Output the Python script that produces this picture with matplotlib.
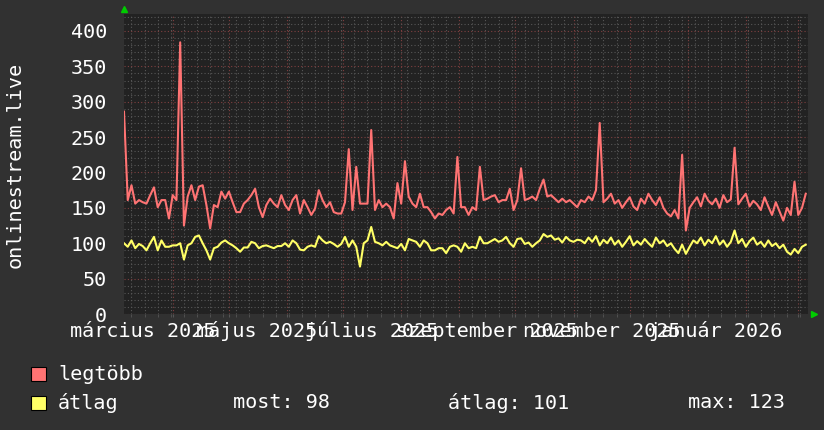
import pandas as pd
import matplotlib.pyplot as plt
import matplotlib.dates as mdates
import matplotlib.transforms as mtransforms
from matplotlib.patches import Rectangle

# values, one every second day from 2025-03-06
legtobb = [286, 161, 182, 156, 161, 158, 156, 168, 179, 151,
           161, 161, 135, 168, 161, 384, 125, 166, 182, 161,
           180, 182, 154, 121, 154, 151, 173, 163, 173, 158,
           144, 144, 156, 161, 168, 177, 151, 137, 154, 163,
           156, 151, 168, 154, 147, 161, 168, 142, 161, 151,
           140, 149, 175, 161, 151, 158, 144, 142, 142, 158,
           233, 147, 208, 156, 156, 156, 260, 147, 161, 151,
           156, 151, 135, 185, 156, 216, 166, 156, 151, 170,
           151, 151, 144, 135, 142, 140, 147, 151, 142, 222,
           151, 151, 140, 151, 147, 208, 161, 163, 166, 168,
           158, 161, 161, 177, 147, 161, 206, 161, 163, 166,
           161, 177, 190, 166, 168, 163, 158, 163, 158, 161,
           156, 151, 161, 158, 166, 161, 175, 270, 158, 163,
           170, 156, 161, 150, 158, 165, 152, 147, 163, 156,
           170, 161, 154, 165, 150, 142, 138, 147, 135, 225,
           118, 150, 158, 165, 152, 170, 160, 155, 163, 150,
           168, 158, 162, 235, 155, 163, 170, 152, 160, 155,
           147, 165, 152, 140, 158, 145, 132, 150, 140, 187,
           140, 150, 170]
atlag = [100, 95, 104, 93, 99, 96, 90, 100, 109, 90,
         104, 95, 95, 97, 97, 100, 77, 97, 100, 109,
         111, 100, 90, 77, 93, 95, 101, 104, 100, 97,
         93, 88, 94, 94, 102, 100, 93, 96, 97, 95,
         93, 96, 96, 100, 95, 104, 100, 91, 90, 95,
         97, 95, 110, 104, 100, 102, 99, 95, 99, 109,
         95, 104, 95, 67, 100, 104, 123, 102, 100, 97,
         102, 97, 95, 93, 99, 90, 106, 104, 102, 95,
         104, 100, 90, 90, 93, 93, 86, 95, 97, 95,
         88, 100, 93, 95, 93, 109, 100, 100, 103, 106,
         102, 104, 109, 100, 95, 106, 107, 99, 101, 95,
         100, 104, 113, 109, 111, 105, 107, 101, 109, 104,
         102, 105, 104, 100, 108, 102, 110, 97, 105, 100,
         108, 98, 104, 95, 102, 110, 97, 103, 98, 106,
         100, 95, 108, 100, 104, 96, 100, 92, 86, 98,
         85, 95, 104, 100, 108, 97, 105, 100, 110, 98,
         104, 95, 102, 118, 100, 106, 95, 103, 108, 98,
         102, 95, 104, 96, 100, 93, 98, 88, 84, 92,
         86, 95, 98]
days = pd.date_range('2025-03-06', periods=len(legtobb), freq='2D')

month_labels = ['március 2025', 'május 2025', 'július 2025',
                'szeptember 2025', 'november 2025', 'január 2026']
label_dates = pd.to_datetime(['2025-03-16', '2025-05-16', '2025-07-16',
                              '2025-09-16', '2025-11-16', '2026-01-16'])
series_names = ['legtöbb', 'átlag']
stats = ['most: 98', 'átlag: 101', 'max: 123']

BG = '#313131'
CANVAS = '#222222'
RED = '#ff7373'
YELLOW = '#ffff66'
FONT = 'DejaVu Sans Mono'
W, H = 824, 430

plt.rcParams['font.family'] = FONT
fig = plt.figure(figsize=(W / 100, H / 100), dpi=100, facecolor=BG)
ax = fig.add_axes([124 / W, 1 - 314 / H, 684 / W, 300 / H], facecolor=CANVAS)

ax.plot(days, legtobb, color=RED, lw=1.5, zorder=3)
ax.plot(days, atlag, color=YELLOW, lw=1.5, zorder=3)

x0 = pd.Timestamp('2025-03-06')
ax.set_xlim(x0, x0 + pd.Timedelta(days=365.2))
ax.set_ylim(0, 424)

ax.xaxis.set_major_locator(mdates.MonthLocator())
ax.xaxis.set_minor_locator(mdates.WeekdayLocator(byweekday=mdates.MO))
ax.set_yticks(range(0, 401, 50))
ax.set_yticks(range(0, 421, 10), minor=True)
ax.set_axisbelow(True)
ax.grid(which='minor', color='#575757', linestyle=(0, (1, 2)), lw=0.8)
ax.grid(which='major', color='#804040', linestyle=(0, (1, 2)), lw=0.8)

ax.tick_params(axis='x', which='both', labelbottom=False, length=2, color='#555555')
ax.tick_params(axis='y', which='both', length=0, colors='white', labelsize=14.5, pad=12)
for s in ax.spines.values():
    s.set_visible(False)

# month labels sit in the middle of each month
trans = mtransforms.blended_transform_factory(ax.transData, ax.transAxes)
for d, lab in zip(label_dates, month_labels):
    ax.text(d, -0.057, lab, transform=trans, ha='center', va='center',
            color='white', fontsize=14.5)

fig.text(15 / W, 1 - 165 / H, 'onlinestream.live', rotation=90, ha='center',
         va='center', color='white', fontsize=14.5)

# green arrows at the axis ends
ax.plot([0], [1.018], marker='^', color='#00cc00', ms=5, transform=ax.transAxes, clip_on=False)
ax.plot([1.009], [0], marker='>', color='#00cc00', ms=5, transform=ax.transAxes, clip_on=False)

# legend
for i, (name, col) in enumerate(zip(series_names, [RED, YELLOW])):
    y = 374 + i * 29
    fig.patches.append(Rectangle((31 / W, 1 - (y + 7) / H), 15 / W, 14 / H,
                                 transform=fig.transFigure, facecolor=col,
                                 edgecolor='black', lw=0.8))
    fig.text(58 / W, 1 - y / H, name, ha='left', va='center', color='white', fontsize=14.5)
for x, txt in zip([233, 448, 688], stats):
    fig.text(x / W, 1 - 403 / H, txt, ha='left', va='center', color='white', fontsize=14.5)

fig.savefig('out.png', dpi=100, facecolor=BG)
